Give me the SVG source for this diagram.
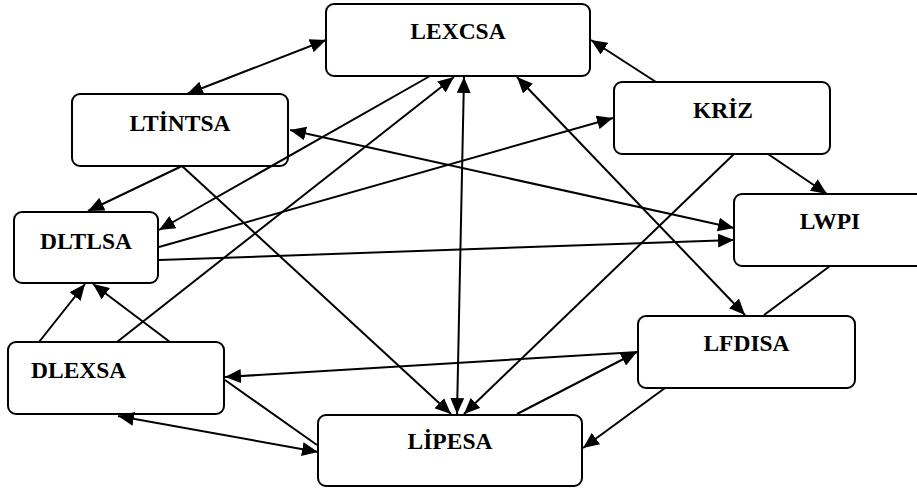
<svg xmlns="http://www.w3.org/2000/svg" width="917" height="491" viewBox="0 0 917 491">
<style>
.box{fill:#fff;stroke:#000;stroke-width:2}
.lbl{font-family:"Liberation Serif","Times New Roman",serif;font-weight:bold;font-size:23.5px;fill:#000;text-anchor:middle}
.c line{stroke:#000;stroke-width:2;fill:none}
.a{marker-end:url(#ah)}
.b{marker-start:url(#ah);marker-end:url(#ah)}
</style>
<defs>
<marker id="ah" markerUnits="userSpaceOnUse" markerWidth="17" markerHeight="14" refX="16" refY="7" orient="auto-start-reverse">
<path d="M0,0 L16,7 L0,14 z" fill="#000"/>
</marker>
</defs>
<rect width="917" height="491" fill="#fff"/>
<g id="LEXCSA"><rect class="box" x="326" y="4" width="264" height="72" rx="8"/><text class="lbl" x="458" y="39">LEXCSA</text></g>
<g id="LTINTSA"><rect class="box" x="72" y="94" width="216" height="72" rx="8"/><text class="lbl" x="180" y="131">LTİNTSA</text></g>
<g id="DLTLSA"><rect class="box" x="14" y="212" width="144" height="71" rx="8"/><text class="lbl" x="86" y="249">DLTLSA</text></g>
<g id="DLEXSA"><rect class="box" x="8" y="342" width="216" height="72" rx="8"/><text class="lbl" x="31" y="378" style="text-anchor:start">DLEXSA</text></g>
<g id="LIPESA"><rect class="box" x="318" y="415" width="264" height="71" rx="8"/><text class="lbl" x="450" y="449">LİPESA</text></g>
<g id="KRIZ"><rect class="box" x="614" y="82" width="216" height="72" rx="8"/><text class="lbl" x="723" y="118">KRİZ</text></g>
<g id="LWPI"><rect class="box" x="734" y="194" width="196" height="72" rx="8"/><text class="lbl" x="830" y="229">LWPI</text></g>
<g id="LFDISA"><rect class="box" x="638" y="316" width="217" height="72" rx="8"/><text class="lbl" x="746.5" y="351">LFDISA</text></g>
<g id="connectors" class="c">
<line class="b" x1="187" y1="94" x2="326" y2="40"/>
<line class="a" x1="656" y1="82" x2="591" y2="40"/>
<line class="a" x1="768" y1="154" x2="827" y2="194"/>
<line class="a" x1="182" y1="166" x2="88" y2="211"/>
<line class="a" x1="430" y1="76" x2="159" y2="230"/>
<line class="a" x1="117" y1="342" x2="454" y2="77"/>
<line class="b" x1="464" y1="77" x2="457" y2="414"/>
<line class="a" x1="182" y1="166" x2="451" y2="414"/>
<line class="a" x1="734" y1="154" x2="464" y2="414"/>
<line class="b" x1="517" y1="77" x2="745" y2="315"/>
<line x1="830" y1="266" x2="764" y2="315"/>
<line class="a" x1="159" y1="247" x2="613" y2="118"/>
<line class="b" x1="290" y1="130" x2="734" y2="228"/>
<line class="a" x1="159" y1="260" x2="734" y2="240"/>
<line class="a" x1="39" y1="342" x2="85" y2="284"/>
<line class="a" x1="170" y1="342" x2="93" y2="284"/>
<line class="a" x1="638" y1="352" x2="225" y2="377"/>
<line class="a" x1="517" y1="414" x2="637" y2="352"/>
<line class="a" x1="665" y1="388" x2="583" y2="448"/>
<line class="b" x1="118" y1="416" x2="318" y2="452"/>
<line x1="225" y1="380" x2="317" y2="445"/>
</g>
</svg>
